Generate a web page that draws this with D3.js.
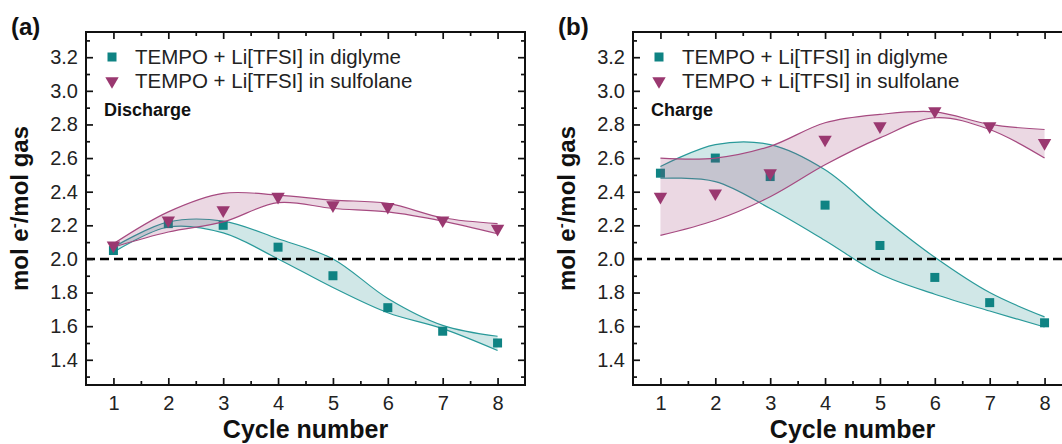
<!DOCTYPE html>
<html>
<head>
<meta charset="utf-8">
<script src="https://cdn.jsdelivr.net/npm/d3@7"></script>
<style>
  body { margin: 0; background: #fff; }
  svg { display: block; font-family: 'Liberation Sans', Arial, sans-serif; }
</style>
</head>
<body>
<svg id="chart"></svg>
<script>
const cycles = [1, 2, 3, 4, 5, 6, 7, 8]
const yMajorTicks = [1.4, 1.6, 1.8, 2.0, 2.2, 2.4, 2.6, 2.8, 3.0, 3.2]
const seriesNames = ['TEMPO + Li[TFSI] in diglyme', 'TEMPO + Li[TFSI] in sulfolane']
const panelLabels = ['(a)', '(b)']
const modeLabels = ['Discharge', 'Charge']

// (a) discharge
const dischargeDiglyme = [2.05, 2.21, 2.20, 2.07, 1.90, 1.71, 1.57, 1.50]
const dischargeDiglymeUpper = [2.07, 2.22, 2.225, 2.12, 2.0, 1.765, 1.605, 1.54]
const dischargeDiglymeLower = [2.04, 2.19, 2.155, 2.0, 1.83, 1.68, 1.585, 1.455]
const dischargeSulfolane = [2.08, 2.23, 2.29, 2.37, 2.32, 2.31, 2.23, 2.18]
const dischargeSulfolaneUpper = [2.09, 2.28, 2.39, 2.38, 2.35, 2.33, 2.245, 2.21]
const dischargeSulfolaneLower = [2.07, 2.16, 2.22, 2.335, 2.30, 2.28, 2.225, 2.15]

// (b) charge
const chargeDiglyme = [2.51, 2.60, 2.49, 2.32, 2.08, 1.89, 1.74, 1.62]
const chargeDiglymeUpper = [2.55, 2.68, 2.68, 2.53, 2.26, 2.01, 1.80, 1.655]
const chargeDiglymeLower = [2.48, 2.46, 2.30, 2.11, 1.91, 1.79, 1.69, 1.595]
const chargeSulfolane = [2.37, 2.39, 2.51, 2.71, 2.79, 2.88, 2.79, 2.69]
const chargeSulfolaneUpper = [2.60, 2.60, 2.67, 2.81, 2.86, 2.875, 2.80, 2.77]
const chargeSulfolaneLower = [2.14, 2.23, 2.37, 2.56, 2.72, 2.84, 2.77, 2.60]

const referenceLine = 2.0

const W = 1062
const H = 444
const teal = '#0f8383'
const tealLine = '#2a9a9a'
const plum = '#9a3870'
const plumLine = '#a64a80'

const svg = d3.select('#chart')
  .attr('width', W)
  .attr('height', H)

function drawPanel(idx, left, diglyme, sulfolane) {
  const plotW = 439
  const top = 32
  const bottom = 385
  const x = d3.scaleLinear().domain([0.5, 8.5]).range([left, left + plotW])
  const y = d3.scaleLinear().domain([1.25, 3.35]).range([bottom, top])
  const g = svg.append('g')

  const series = [
    { vals: diglyme[0], up: diglyme[1], lo: diglyme[2], color: teal, line: tealLine, fill: 'rgba(19,135,135,0.2)', shape: 'square' },
    { vals: sulfolane[0], up: sulfolane[1], lo: sulfolane[2], color: plum, line: plumLine, fill: 'rgba(156,58,114,0.2)', shape: 'triangle' }
  ]

  const curve = d3.curveCatmullRom.alpha(0.5)
  const tri = d3.symbol().type(d3.symbolTriangle).size(78)

  series.forEach(s => {
    const rows = cycles.map((c, i) => ({ c, v: s.vals[i], up: s.up[i], lo: s.lo[i] }))

    // 误差带
    g.append('path')
      .datum(rows)
      .attr('fill', s.fill)
      .attr('d', d3.area().x(d => x(d.c)).y0(d => y(d.lo)).y1(d => y(d.up)).curve(curve))

    ;['up', 'lo'].forEach(k => {
      g.append('path')
        .datum(rows)
        .attr('fill', 'none')
        .attr('stroke', s.line)
        .attr('stroke-width', 1.2)
        .attr('d', d3.line().x(d => x(d.c)).y(d => y(d[k])).curve(curve))
    })

    // 数据点
    if (s.shape === 'square') {
      g.append('g').selectAll('rect')
        .data(rows)
        .enter()
        .append('rect')
        .attr('x', d => x(d.c) - 4.5)
        .attr('y', d => y(d.v) - 4.5)
        .attr('width', 9)
        .attr('height', 9)
        .attr('fill', s.color)
    } else {
      g.append('g').selectAll('path')
        .data(rows)
        .enter()
        .append('path')
        .attr('d', tri)
        .attr('transform', d => `translate(${x(d.c)},${y(d.v)}) rotate(180)`)
        .attr('fill', s.color)
    }
  })

  // 参考虚线
  g.append('line')
    .attr('x1', left)
    .attr('x2', left + plotW)
    .attr('y1', y(referenceLine))
    .attr('y2', y(referenceLine))
    .attr('stroke', '#000')
    .attr('stroke-width', 2.4)
    .attr('stroke-dasharray', '9,5')

  // 坐标轴（刻度朝内）
  const xMinor = d3.range(1.5, 8.5, 1)
  const yMinor = d3.range(1.3, 3.35, 0.2).map(v => +v.toFixed(1))

  const styleAxis = sel => {
    sel.select('.domain').remove()
    sel.selectAll('line').attr('stroke', '#111').attr('stroke-width', 1.7)
    sel.selectAll('text')
      .attr('fill', '#222')
      .style('font-size', '20px')
      .style('font-family', "'Liberation Sans', Arial, sans-serif")
  }

  g.append('g').attr('transform', `translate(0,${bottom})`)
    .call(d3.axisBottom(x).tickValues(cycles).tickSize(-7).tickPadding(11).tickFormat(d3.format('d')))
    .call(styleAxis)
  g.append('g').attr('transform', `translate(0,${bottom})`)
    .call(d3.axisBottom(x).tickValues(xMinor).tickSize(-4).tickFormat(''))
    .call(styleAxis)
  g.append('g').attr('transform', `translate(0,${top})`)
    .call(d3.axisTop(x).tickValues(cycles).tickSize(-7).tickFormat(''))
    .call(styleAxis)
  g.append('g').attr('transform', `translate(0,${top})`)
    .call(d3.axisTop(x).tickValues(xMinor).tickSize(-4).tickFormat(''))
    .call(styleAxis)

  g.append('g').attr('transform', `translate(${left},0)`)
    .call(d3.axisLeft(y).tickValues(yMajorTicks).tickSize(-7).tickPadding(8).tickFormat(d3.format('.1f')))
    .call(styleAxis)
  g.append('g').attr('transform', `translate(${left},0)`)
    .call(d3.axisLeft(y).tickValues(yMinor).tickSize(-4).tickFormat(''))
    .call(styleAxis)
  g.append('g').attr('transform', `translate(${left + plotW},0)`)
    .call(d3.axisRight(y).tickValues(yMajorTicks).tickSize(-7).tickFormat(''))
    .call(styleAxis)
  g.append('g').attr('transform', `translate(${left + plotW},0)`)
    .call(d3.axisRight(y).tickValues(yMinor).tickSize(-4).tickFormat(''))
    .call(styleAxis)

  g.append('rect')
    .attr('x', left)
    .attr('y', top)
    .attr('width', plotW)
    .attr('height', bottom - top)
    .attr('fill', 'none')
    .attr('stroke', '#111')
    .attr('stroke-width', 2)

  // 图例
  const legY = [57, 81]
  series.forEach((s, i) => {
    if (s.shape === 'square') {
      g.append('rect')
        .attr('x', left + 26 - 4.5)
        .attr('y', legY[i] - 4.5)
        .attr('width', 9)
        .attr('height', 9)
        .attr('fill', s.color)
    } else {
      g.append('path')
        .attr('d', tri)
        .attr('transform', `translate(${left + 26},${legY[i]}) rotate(180)`)
        .attr('fill', s.color)
    }
    g.append('text')
      .attr('x', left + 49)
      .attr('y', legY[i])
      .attr('dy', '0.36em')
      .attr('fill', '#222')
      .style('font-size', '20.5px')
      .text(seriesNames[i])
  })

  g.append('text')
    .attr('x', left + 18)
    .attr('y', 116)
    .attr('fill', '#111')
    .style('font-size', '18px')
    .style('font-weight', 'bold')
    .text(modeLabels[idx])

  // 标题
  g.append('text')
    .attr('x', left - 75)
    .attr('y', 35)
    .attr('fill', '#111')
    .style('font-size', '24px')
    .style('font-weight', 'bold')
    .text(panelLabels[idx])

  const yTitle = g.append('text')
    .attr('transform', `translate(${left - 58},${(top + bottom) / 2}) rotate(-90)`)
    .attr('text-anchor', 'middle')
    .attr('fill', '#111')
    .style('font-size', '24px')
    .style('font-weight', 'bold')
  yTitle.append('tspan').text('mol e')
  yTitle.append('tspan').attr('dy', -9).style('font-size', '15px').text('-')
  yTitle.append('tspan').attr('dy', 9).text('/mol gas')

  g.append('text')
    .attr('x', left + plotW / 2)
    .attr('y', 438)
    .attr('text-anchor', 'middle')
    .attr('fill', '#111')
    .style('font-size', '25px')
    .style('font-weight', 'bold')
    .text('Cycle number')
}

drawPanel(0, 86,
  [dischargeDiglyme, dischargeDiglymeUpper, dischargeDiglymeLower],
  [dischargeSulfolane, dischargeSulfolaneUpper, dischargeSulfolaneLower])
drawPanel(1, 633,
  [chargeDiglyme, chargeDiglymeUpper, chargeDiglymeLower],
  [chargeSulfolane, chargeSulfolaneUpper, chargeSulfolaneLower])
</script>
</body>
</html>
